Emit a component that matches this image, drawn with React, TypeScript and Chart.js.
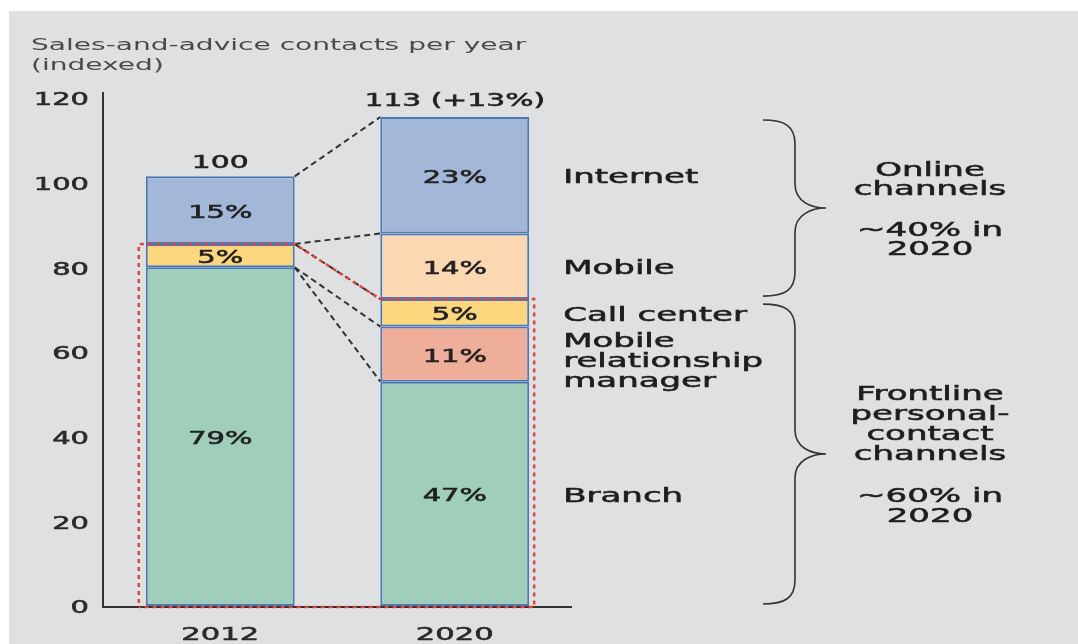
import React, { useEffect, useRef } from "react";
import { Chart, registerables } from "chart.js";
Chart.register(...registerables);

const categories = ["2012", "2020"];
const branch = [80, 53];
const mrm = [0, 13];
const callCenter = [5.5, 6.5];
const mobile = [0, 15.5];
const internet = [16, 27.5];
const branchLabels = ["79%", "47%"];
const mrmLabels = ["", "11%"];
const callLabels = ["5%", "5%"];
const mobileLabels = ["", "14%"];
const internetLabels = ["15%", "23%"];
const totalLabels = ["100", "113 (+13%)"];
const yTicks = [0, 20, 40, 60, 80, 100, 120];
const titleLines = ["Sales-and-advice contacts per year", "(indexed)"];
const channelNames = [["Branch"], ["Mobile", "relationship", "manager"], ["Call center"], ["Mobile"], ["Internet"]];
const onlineLines = ["Online", "channels", "~40% in", "2020"];
const frontlineLines = ["Frontline", "personal-", "contact", "channels", "~60% in", "2020"];

const COLORS = ["#9fcfbb", "#eeae9a", "#fdd77e", "#fcd8b2", "#a3b8d8"];
const BORDER = "#4a7ab5";
const SX = 1.7;
const FONT = '"DejaVu Sans"';
const DY = 3;

function txt(ctx: CanvasRenderingContext2D, s: string, x: number, y: number, size: number, align: CanvasTextAlign, color: string, heavy = true) {
  ctx.save();
  ctx.font = `normal ${size}px ${FONT}`;
  ctx.fillStyle = color;
  ctx.strokeStyle = color;
  ctx.lineWidth = 0.55;
  ctx.textBaseline = "middle";
  ctx.textAlign = align;
  ctx.translate(x, y + DY);
  ctx.scale(SX, 1);
  ctx.fillText(s, 0, 0);
  if (heavy) ctx.strokeText(s, 0, 0);
  ctx.restore();
}

function brace(ctx: CanvasRenderingContext2D, x0: number, top: number, bottom: number, tipY: number) {
  const xv = x0 + 32;
  const xt = x0 + 63;
  ctx.save();
  ctx.strokeStyle = "#333";
  ctx.lineWidth = 1.6;
  ctx.setLineDash([]);
  ctx.beginPath();
  ctx.moveTo(x0, top);
  ctx.bezierCurveTo(x0 + 22, top, xv, top + 6, xv, top + 24);
  ctx.lineTo(xv, tipY - 24);
  ctx.bezierCurveTo(xv, tipY - 6, xt - 14, tipY, xt, tipY);
  ctx.bezierCurveTo(xt - 14, tipY, xv, tipY + 6, xv, tipY + 24);
  ctx.lineTo(xv, bottom - 24);
  ctx.bezierCurveTo(xv, bottom - 6, x0 + 22, bottom, x0, bottom);
  ctx.stroke();
  ctx.restore();
}

const overlay = {
  id: "overlay",
  beforeDraw(chart: any) {
    const ctx = chart.ctx as CanvasRenderingContext2D;
    ctx.save();
    ctx.fillStyle = "#dfe0e2";
    ctx.fillRect(9, 11, chart.width - 9, chart.height - 11);
    ctx.restore();
  },
  afterDatasetsDraw(chart: any) {
    const ctx = chart.ctx as CanvasRenderingContext2D;
    const ca = chart.chartArea;
    const y = chart.scales.y;
    const x = chart.scales.x;
    const base = y.getPixelForValue(0);

    // title
    txt(ctx, titleLines[0], 31, 43, 16.5, "left", "#4a4a4a", false);
    txt(ctx, titleLines[1], 31, 63, 16.5, "left", "#4a4a4a", false);

    // axes
    ctx.save();
    ctx.strokeStyle = "#333";
    ctx.lineWidth = 2;
    ctx.beginPath();
    ctx.moveTo(ca.left, ca.top - 6);
    ctx.lineTo(ca.left, base + 1);
    ctx.lineTo(ca.right, base + 1);
    ctx.stroke();
    ctx.restore();

    yTicks.forEach((t) => txt(ctx, String(t), ca.left - 14, y.getPixelForValue(t), 17, "right", "#2a2a2a"));
    categories.forEach((c, i) => txt(ctx, c, x.getPixelForValue(i), base + 26, 18, "center", "#2a2a2a"));

    const metas = [0, 1, 2, 3, 4].map((d) => chart.getDatasetMeta(d));
    const el = (d: number, i: number) => metas[d].data[i] as any;
    const left = (i: number) => el(0, i).x - el(0, i).width / 2;
    const right = (i: number) => el(0, i).x + el(0, i).width / 2;
    const topOf = (d: number, i: number) => el(d, i).y;

    // connectors (black dashed)
    const dash = (x1: number, y1: number, x2: number, y2: number) => {
      ctx.save();
      ctx.strokeStyle = "#333";
      ctx.lineWidth = 2;
      ctx.setLineDash([6, 4]);
      ctx.beginPath();
      ctx.moveTo(x1, y1);
      ctx.lineTo(x2, y2);
      ctx.stroke();
      ctx.restore();
    };
    const r0 = right(0);
    const l1 = left(1);
    dash(r0, topOf(4, 0), l1, topOf(4, 1));
    dash(r0, topOf(2, 0), l1, topOf(3, 1));
    dash(r0, topOf(2, 0), l1, topOf(2, 1));
    dash(r0, topOf(0, 0), l1, topOf(1, 1));
    dash(r0, topOf(0, 0), l1, topOf(0, 1));

    // red dotted outline of frontline channels
    ctx.save();
    ctx.strokeStyle = "#e2453a";
    ctx.lineWidth = 2.5;
    ctx.setLineDash([4, 4]);
    ctx.lineDashOffset = 4;
    ctx.beginPath();
    const lx = left(0) - 7;
    const rx = right(1) + 5;
    ctx.moveTo(lx, base + 1);
    ctx.lineTo(lx, topOf(2, 0));
    ctx.lineTo(r0, topOf(2, 0));
    ctx.lineTo(l1, topOf(2, 1));
    ctx.lineTo(rx, topOf(2, 1));
    ctx.lineTo(rx, base + 1);
    ctx.closePath();
    ctx.stroke();
    ctx.restore();

    // segment labels
    const segLabels = [branchLabels, mrmLabels, callLabels, mobileLabels, internetLabels];
    segLabels.forEach((labs, d) => {
      labs.forEach((s, i) => {
        if (!s) return;
        const e = el(d, i);
        txt(ctx, s, e.x, (e.y + e.base) / 2, 17, "center", "#222");
      });
    });
    // totals
    totalLabels.forEach((s, i) => {
      const e = el(4, i);
      txt(ctx, s, e.x, e.y - (i === 0 ? 16 : 19), 17.5, "center", "#222");
    });

    // channel names next to 2020 bar
    const nx = right(1) + 34;
    channelNames.forEach((lines, d) => {
      const e = el(d, 1);
      const cy = (e.y + e.base) / 2 + (lines.length > 1 ? 5 : 0);
      lines.forEach((s, k) => {
        txt(ctx, s, nx, cy + (k - (lines.length - 1) / 2) * 20, 20, "left", "#1e1e1e");
      });
    });

    // braces
    const bx = 763;
    const onlineTop = topOf(4, 1) + 3;
    const onlineBottom = topOf(2, 1) - 3;
    const onlineTip = (onlineTop + onlineBottom) / 2;
    brace(ctx, bx, onlineTop, onlineBottom, onlineTip);
    const frontTop = topOf(2, 1) + 5;
    const frontBottom = base - 2;
    const frontTip = (frontTop + frontBottom) / 2;
    brace(ctx, bx, frontTop, frontBottom, frontTip);

    const gx = 930;
    const onOff = [-40, -21, 20, 39];
    onlineLines.forEach((s, k) => txt(ctx, s, gx, onlineTip + onOff[k], 20, "center", "#1e1e1e"));
    const frOff = [-62, -42, -22, -2, 40, 60];
    frontlineLines.forEach((s, k) => txt(ctx, s, gx, frontTip + frOff[k], 20, "center", "#1e1e1e"));
  },
};

export default function App() {
  const ref = useRef<HTMLCanvasElement>(null);
  useEffect(() => {
    if (!ref.current) return;
    const series = [branch, mrm, callCenter, mobile, internet];
    const chart = new Chart(ref.current, {
      type: "bar",
      data: {
        labels: categories,
        datasets: series.map((data, d) => ({
          label: channelNames[d].join(" "),
          data,
          backgroundColor: COLORS[d],
          borderColor: BORDER,
          borderWidth: 2,
          borderSkipped: false,
          barPercentage: 0.635,
          categoryPercentage: 1,
        })),
      },
      options: {
        responsive: false,
        animation: false,
        devicePixelRatio: 1,
        layout: { padding: { left: 103, right: 506, top: 98, bottom: 38 } },
        plugins: { legend: { display: false }, tooltip: { enabled: false }, title: { display: false } },
        scales: {
          x: { stacked: true, display: false, offset: true },
          y: { stacked: true, display: false, min: 0, max: 120 },
        },
      },
      plugins: [overlay],
    });
    return () => chart.destroy();
  }, []);
  return (
    <div style={{ position: "fixed", left: 0, top: 0, width: 1078, height: 644, background: "#fff" }}>
      <canvas ref={ref} width={1078} height={644} style={{ display: "block" }} />
    </div>
  );
}
